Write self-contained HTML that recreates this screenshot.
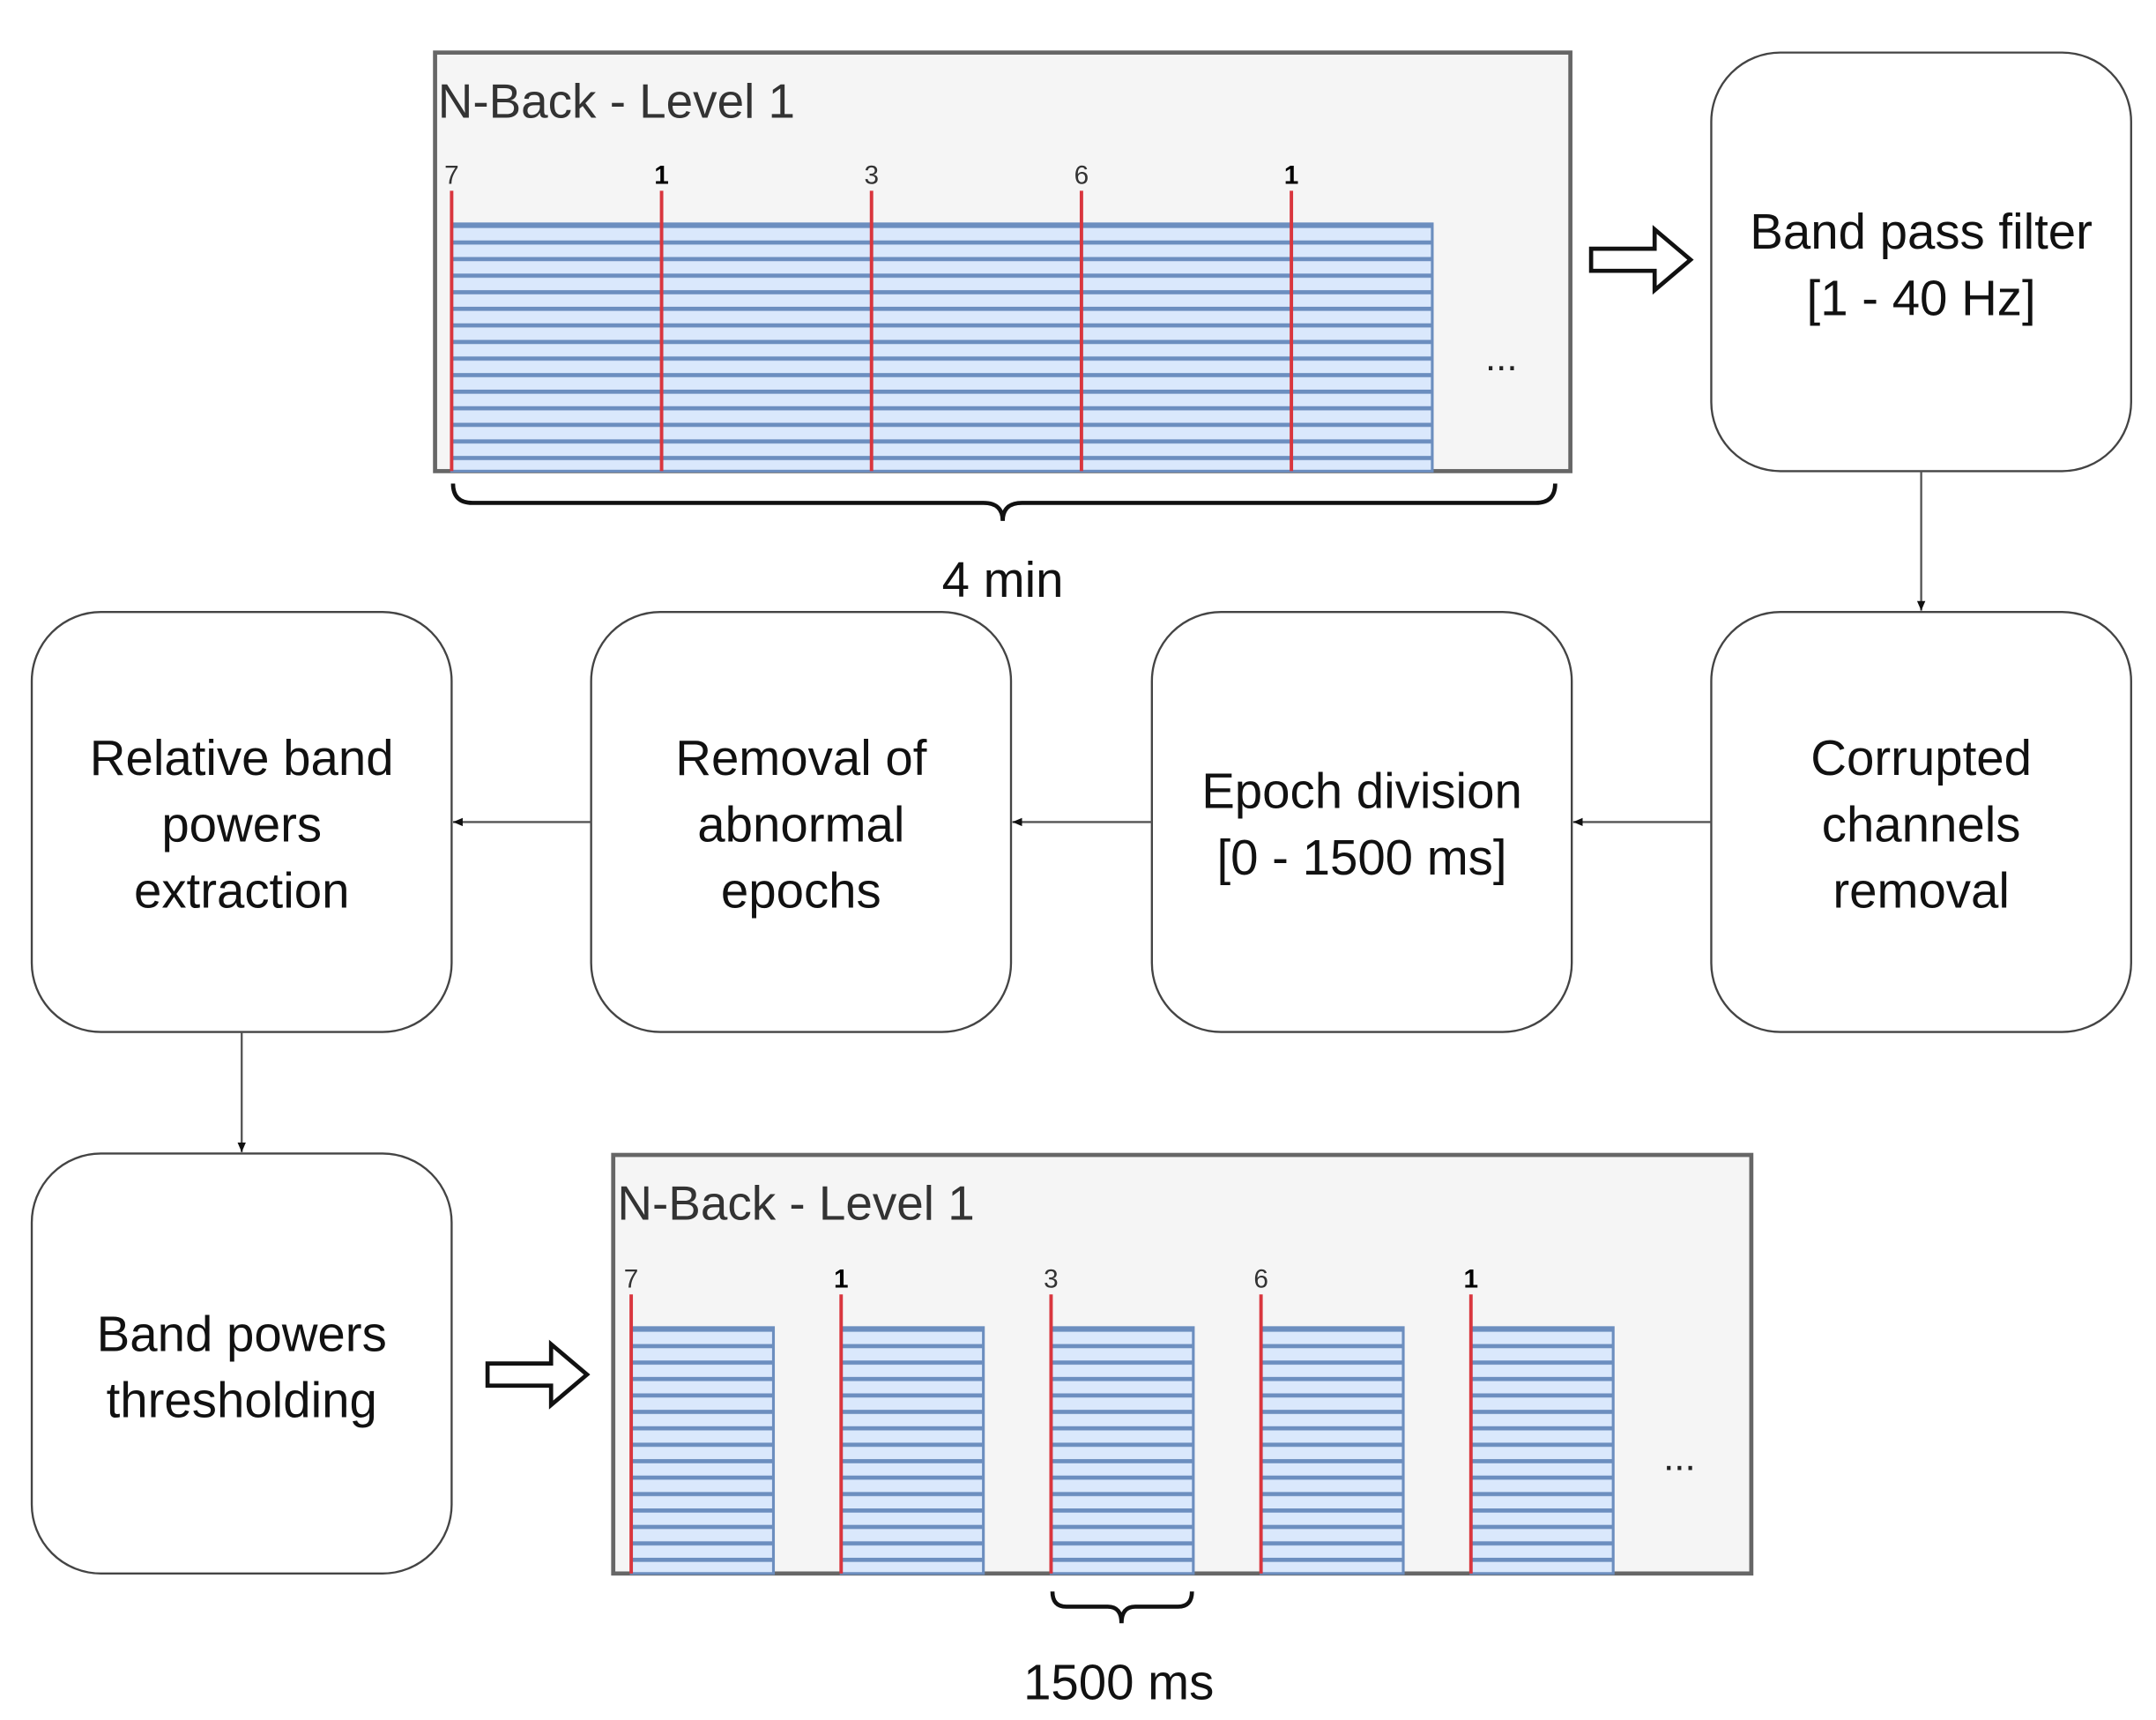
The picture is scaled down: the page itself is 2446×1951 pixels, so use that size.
<!DOCTYPE html>
<html><head><meta charset="utf-8"><style>html,body{margin:0;padding:0;background:#fff}svg{display:block}</style></head>
<body>
<svg width="2446" height="1951" viewBox="0 0 1561 1245" xmlns="http://www.w3.org/2000/svg" font-family="'Liberation Sans', 'DejaVu Sans', sans-serif">
<defs>
<pattern id="s1" patternUnits="userSpaceOnUse" x="0" y="162" width="20" height="12">
<rect width="20" height="12" fill="#dae8fc"/><rect y="0" width="20" height="3" fill="#6c8ebf"/>
</pattern>
<pattern id="s2" patternUnits="userSpaceOnUse" x="0" y="961" width="20" height="11.9">
<rect width="20" height="11.9" fill="#dae8fc"/><rect y="0" width="20" height="3" fill="#6c8ebf"/>
</pattern>
<marker id="ah" markerWidth="8" markerHeight="8" refX="7" refY="4" orient="auto" markerUnits="userSpaceOnUse"><path d="M0,1 L7,4 L0,7 Z" fill="#111"/></marker>
</defs>
<rect width="1561" height="1245" fill="#fff"/>

<rect x="315" y="38" width="822" height="303" fill="#f5f5f5" stroke="#666" stroke-width="3"/>
<text x="317" y="85" font-size="35" fill="#333">N-Back - Level 1</text>
<rect x="327" y="162" width="710" height="179" fill="url(#s1)" stroke="#6c8ebf" stroke-width="2"/>
<g stroke="#d9363e" stroke-width="2.5">
<line x1="327" y1="138" x2="327" y2="341"/><line x1="479" y1="138" x2="479" y2="341"/><line x1="631" y1="138" x2="631" y2="341"/><line x1="783" y1="138" x2="783" y2="341"/><line x1="935" y1="138" x2="935" y2="341"/>
</g>
<g font-size="19" fill="#333" text-anchor="middle">
<text x="327" y="133">7</text><text x="479" y="133" font-weight="bold" fill="#000">1</text><text x="631" y="133">3</text><text x="783" y="133">6</text><text x="935" y="133" font-weight="bold" fill="#000">1</text>
</g>
<text x="1087" y="268" font-size="28" text-anchor="middle" fill="#222">...</text>
<path d="M328,350 Q328,364 342,364 L712,364 Q726,364 726,377 Q726,364 740,364 L1112,364 Q1126,364 1126,350" fill="none" stroke="#111" stroke-width="3"/>
<text x="726" y="432" font-size="36" text-anchor="middle" fill="#111">4 min</text>

<path d="M1152,180 L1198,180 L1198,166 L1224,188 L1198,210 L1198,196 L1152,196 Z" fill="#fff" stroke="#111" stroke-width="3"/>
<path d="M353,987 L399,987 L399,973 L425,995 L399,1017 L399,1003 L353,1003 Z" fill="#fff" stroke="#111" stroke-width="3"/>

<g fill="#fff" stroke="#444" stroke-width="1.5">
<rect x="1239" y="38" width="304" height="303" rx="50"/>
<rect x="23" y="443" width="304" height="304" rx="50"/>
<rect x="428" y="443" width="304" height="304" rx="50"/>
<rect x="834" y="443" width="304" height="304" rx="50"/>
<rect x="1239" y="443" width="304" height="304" rx="50"/>
<rect x="23" y="835" width="304" height="304" rx="50"/>
</g>
<g font-size="36" fill="#111" text-anchor="middle">
<text x="1391" y="180">Band pass filter</text><text x="1391" y="228">[1 - 40 Hz]</text>
<text x="1391" y="561">Corrupted</text><text x="1391" y="609">channels</text><text x="1391" y="657">removal</text>
<text x="986" y="585">Epoch division</text><text x="986" y="633">[0 - 1500 ms]</text>
<text x="580" y="561">Removal of</text><text x="580" y="609">abnormal</text><text x="580" y="657">epochs</text>
<text x="175" y="561">Relative band</text><text x="175" y="609">powers</text><text x="175" y="657">extraction</text>
<text x="175" y="978">Band powers</text><text x="175" y="1026">thresholding</text>
</g>

<g stroke="#555" stroke-width="1.5" fill="none" marker-end="url(#ah)">
<line x1="1391" y1="341" x2="1391" y2="442"/>
<line x1="1239" y1="595" x2="1139" y2="595"/>
<line x1="834" y1="595" x2="733" y2="595"/>
<line x1="428" y1="595" x2="328" y2="595"/>
<line x1="175" y1="747" x2="175" y2="834"/>
</g>

<rect x="444" y="836" width="824" height="303" fill="#f5f5f5" stroke="#666" stroke-width="3"/>
<text x="447" y="883" font-size="35" fill="#333">N-Back - Level 1</text>
<g fill="url(#s2)" stroke="#6c8ebf" stroke-width="2">
<rect x="457" y="961" width="103" height="178"/><rect x="609" y="961" width="103" height="178"/><rect x="761" y="961" width="103" height="178"/><rect x="913" y="961" width="103" height="178"/><rect x="1065" y="961" width="103" height="178"/>
</g>
<g stroke="#d9363e" stroke-width="2.5">
<line x1="457" y1="937" x2="457" y2="1139"/><line x1="609" y1="937" x2="609" y2="1139"/><line x1="761" y1="937" x2="761" y2="1139"/><line x1="913" y1="937" x2="913" y2="1139"/><line x1="1065" y1="937" x2="1065" y2="1139"/>
</g>
<g font-size="19" fill="#333" text-anchor="middle">
<text x="457" y="932">7</text><text x="609" y="932" font-weight="bold" fill="#000">1</text><text x="761" y="932">3</text><text x="913" y="932">6</text><text x="1065" y="932" font-weight="bold" fill="#000">1</text>
</g>
<text x="1216" y="1064" font-size="28" text-anchor="middle" fill="#222">...</text>
<path d="M762,1152 Q762,1163 772,1163 L802,1163 Q812,1163 812,1175 Q812,1163 822,1163 L853,1163 Q863,1163 863,1152" fill="none" stroke="#111" stroke-width="3"/>
<text x="810" y="1230" font-size="36" text-anchor="middle" fill="#111">1500 ms</text>
</svg>
</body></html>
